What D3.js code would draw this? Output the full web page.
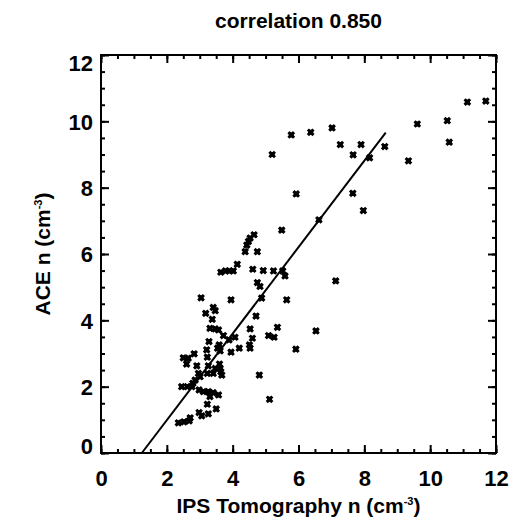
<!DOCTYPE html>
<html>
<head>
<meta charset="utf-8">
<script src="https://cdn.jsdelivr.net/npm/d3@7"></script>
<style>
    html, body { margin: 0; padding: 0; background: #fff; }
    svg { display: block; }
</style>
</head>
<body>
<div id="chart"></div>
<script>
// Data
const ipsN = [
    11.69, 11.13, 10.52, 10.58, 9.61, 9.34, 8.62, 8.16, 7.90, 7.66, 7.27, 7.02, 6.37, 5.78, 5.20,
    5.93, 7.65, 7.97, 6.62, 5.49, 4.65, 4.53, 4.48, 4.43, 4.38, 4.75, 4.14, 3.64, 3.78, 3.90, 4.02,
    4.61, 4.93, 5.24, 5.52, 5.59, 4.75, 4.83, 3.95, 4.88, 5.64, 3.04, 3.41, 3.47, 3.18, 3.38,
    4.71, 3.31, 3.47, 3.57, 5.36, 4.53, 5.09, 5.26, 3.72, 4.60, 4.07, 7.13, 6.53, 5.92,
    3.89, 3.28, 3.59, 3.54, 3.62, 4.20, 4.51, 4.53, 3.95, 3.21, 3.23, 2.50, 2.65, 2.60, 2.83,
    2.91, 3.26, 3.60, 3.62, 3.64, 3.67, 3.47, 3.41, 2.96, 3.01, 3.23, 2.86, 2.79, 2.45, 2.62,
    2.76, 2.98, 3.11, 3.26, 3.41, 3.57, 3.31, 3.23, 3.50, 2.98, 3.06, 3.26, 2.35, 2.52, 2.68,
    2.71, 4.81, 5.12
];
const aceN = [
    10.61, 10.58, 10.02, 9.37, 9.92, 8.81, 9.24, 8.90, 9.30, 8.99, 9.30, 9.80, 9.67, 9.59, 9.00,
    7.81, 7.83, 7.31, 7.03, 6.72, 6.58, 6.48, 6.38, 6.27, 6.07, 6.07, 5.69, 5.45, 5.49, 5.49, 5.49,
    5.54, 5.50, 5.49, 5.49, 5.34, 5.14, 5.02, 4.62, 4.67, 4.62, 4.68, 4.39, 4.29, 4.21, 4.03,
    4.13, 3.76, 3.74, 3.71, 3.79, 3.74, 3.54, 3.49, 3.54, 3.46, 3.49, 5.19, 3.68, 3.13,
    3.41, 3.36, 3.26, 3.16, 3.08, 3.16, 3.26, 3.16, 3.04, 3.11, 2.89, 2.87, 2.86, 2.68, 2.99,
    2.63, 2.63, 2.68, 2.55, 2.45, 2.35, 2.55, 2.40, 2.40, 2.30, 2.40, 2.20, 2.10, 2.00, 2.00,
    2.00, 1.90, 1.85, 1.85, 1.82, 1.75, 1.70, 1.47, 1.33, 1.22, 1.12, 1.18, 0.91, 0.94, 0.97,
    1.06, 2.35, 1.62
];
// Fit line end points
const fitX = [1.24, 8.65];
const fitY = [0, 9.66];
// Tick labels
const majorTicks = [0, 2, 4, 6, 8, 10, 12];
const minorTicks = d3.range(0, 12.01, 0.5);
const title = "correlation 0.850";

// Size data
const W = 520, H = 522;
const m = { top: 55, right: 24, bottom: 69, left: 101 };
const font = "'Liberation Sans', Arial, Helvetica, sans-serif";
const fs = 21;

// Append SVG
const svg = d3.select("#chart")
    .append("svg")
    .attr("width", W)
    .attr("height", H)
    .style("font-family", font);

const x = d3.scaleLinear().domain([0, 12]).range([m.left, W - m.right]);
const y = d3.scaleLinear().domain([0, 12]).range([H - m.bottom, m.top]);

// Draw inward ticks on one side
function ticks(axisFn, pos, transform, labels) {
    const g = svg.append("g").attr("transform", transform);
    g.call(axisFn(pos).tickValues(minorTicks).tickSize(-4).tickSizeOuter(0).tickFormat(""));
    const gm = svg.append("g").attr("transform", transform);
    gm.call(axisFn(pos).tickValues(majorTicks).tickSize(-8).tickSizeOuter(0)
        .tickPadding(labels ? (axisFn === d3.axisBottom ? 17 : 8) : 0)
        .tickFormat(labels ? d3.format("d") : ""));
    [g, gm].forEach(s => {
        s.select(".domain").remove();
        s.selectAll("line").attr("stroke", "#000").attr("stroke-width", 2);
    });
    gm.selectAll("text")
        .attr("fill", "#000")
        .attr("font-size", 22)
        .attr("font-weight", "bold")
        .style("font-family", font);
    return gm;
}

// X-axis
ticks(d3.axisBottom, x, `translate(0, ${y(0)})`, true);
ticks(d3.axisTop, x, `translate(0, ${y(12)})`, false);
// Y-axis
const yl = ticks(d3.axisLeft, y, `translate(${x(0)}, 0)`, true);
ticks(d3.axisRight, y, `translate(${x(12)}, 0)`, false);
// End labels are kept inside the axis range
yl.selectAll("text").attr("dy", d => d === 12 ? "0.72em" : d === 0 ? "0em" : "0.36em");

// Frame
svg.append("rect")
    .attr("x", x(0))
    .attr("y", y(12))
    .attr("width", x(12) - x(0))
    .attr("height", y(0) - y(12))
    .attr("fill", "none")
    .attr("stroke", "#000")
    .attr("stroke-width", 2);

// Fit line
svg.append("path")
    .datum(fitX.map((d, i) => [d, fitY[i]]))
    .attr("d", d3.line().x(d => x(d[0])).y(d => y(d[1])))
    .attr("fill", "none")
    .attr("stroke", "#000")
    .attr("stroke-width", 2);

// Points
svg.append("g")
    .selectAll("path")
    .data(ipsN.map((d, i) => [d, aceN[i]]))
    .join("path")
    .attr("transform", d => `translate(${x(d[0])}, ${y(d[1])})`)
    .attr("d", "M-2.8,-2.8L2.8,2.8M-2.8,2.8L2.8,-2.8")
    .attr("stroke", "#000")
    .attr("stroke-width", 3)
    .attr("fill", "none");
svg.append("g")
    .selectAll("rect")
    .data(ipsN.map((d, i) => [d, aceN[i]]))
    .join("rect")
    .attr("x", d => x(d[0]) - 2.5)
    .attr("y", d => y(d[1]) - 2.5)
    .attr("width", 5)
    .attr("height", 5)
    .attr("fill", "#000");

// Title
svg.append("text")
    .attr("x", (x(0) + x(12)) / 2)
    .attr("y", 28)
    .attr("text-anchor", "middle")
    .attr("font-size", fs)
    .attr("font-weight", "bold")
    .text(title);

// Axis titles
function unitLabel(sel, name) {
    sel.append("tspan").text(name + " (cm");
    sel.append("tspan").attr("dy", -8).attr("font-size", 11).text("-3");
    sel.append("tspan").attr("dy", 8).text(")");
}
svg.append("text")
    .attr("x", (x(0) + x(12)) / 2)
    .attr("y", 513)
    .attr("text-anchor", "middle")
    .attr("font-size", fs)
    .attr("font-weight", "bold")
    .call(unitLabel, "IPS Tomography n");
svg.append("text")
    .attr("transform", `translate(50, ${(y(0) + y(12)) / 2}) rotate(-90)`)
    .attr("text-anchor", "middle")
    .attr("font-size", fs)
    .attr("font-weight", "bold")
    .call(unitLabel, "ACE n");
</script>
</body>
</html>
